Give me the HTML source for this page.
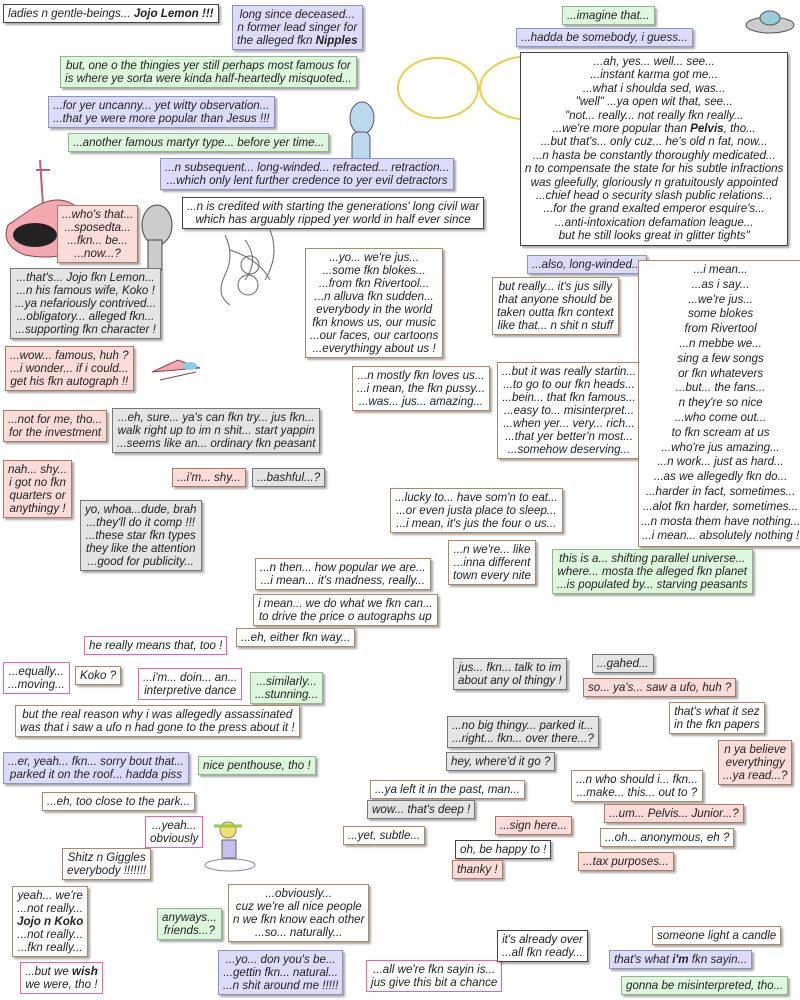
<!DOCTYPE html>
<html><head><meta charset="utf-8"><style>
body{margin:0;width:800px;height:1000px;background:#fff;position:relative;overflow:hidden}
.b{position:absolute;font:italic 11.6px/13px "Liberation Sans",sans-serif;color:#222;padding:2px 4px;text-align:center;white-space:nowrap;border:1px solid;box-shadow:2px 2px 2px rgba(0,0,0,.35)}
.k{background:#fff;border-color:#444}
.u{background:#dcdcfa;border-color:#8a94c8}
.g{background:#ddf8dd;border-color:#8cb88c}
.p{background:#fbdcd8;border-color:#b07860}
.y{background:#e4e4e4;border-color:#777}
.w{background:#fff;border-color:#b08860}
.m{background:#fff;border-color:#f060b0;box-shadow:none}
svg{position:absolute;left:0;top:0}
</style></head><body>
<svg width="800" height="1000">
<ellipse cx="438" cy="88" rx="40" ry="30" fill="#fff" stroke="#e8d040" stroke-width="2"/>
<ellipse cx="532" cy="88" rx="52" ry="32" fill="#fff" stroke="#e8d040" stroke-width="2"/>
<ellipse cx="770" cy="25" rx="24" ry="8" fill="#ccc" stroke="#555"/>
<ellipse cx="770" cy="18" rx="10" ry="7" fill="#9cd" stroke="#555"/>
<ellipse cx="362" cy="118" rx="12" ry="16" fill="#bcd8ec" stroke="#557"/>
<rect x="352" y="132" width="18" height="36" rx="6" fill="#bcd8ec" stroke="#557"/>
<path d="M40 160 L44 220 M36 170 H50" stroke="#c06070" stroke-width="2"/>
<path d="M30 210 Q60 190 80 210 L90 245 Q60 262 25 255 Q0 245 8 225 Z" fill="#f4a8b0" stroke="#844"/>
<ellipse cx="35" cy="235" rx="22" ry="12" fill="#222"/>
<ellipse cx="157" cy="225" rx="15" ry="20" fill="#ccc" stroke="#444"/>
<rect x="148" y="240" width="14" height="30" fill="#ccc" stroke="#444"/>
<g fill="none" stroke="#666"><path d="M225 235 q10 20 0 40 q-10 20 5 30 M245 240 q15 20 0 40 M270 230 q10 25 -5 50 M230 250 q30 10 40 30"/><circle cx="250" cy="265" r="9"/><circle cx="248" cy="285" r="10"/></g>
<path d="M152 372 L200 368 L178 360 Z M160 380 L196 372" fill="#f4a8b0" stroke="#844"/>
<ellipse cx="190" cy="366" rx="7" ry="4" fill="#8ce"/>
<circle cx="228" cy="830" r="8" fill="#f0e070" stroke="#886"/>
<path d="M214 826 h28" stroke="#9c4" stroke-width="3"/>
<ellipse cx="230" cy="865" rx="25" ry="6" fill="none" stroke="#88a"/>
<rect x="222" y="840" width="14" height="18" fill="#c8c0f0" stroke="#665"/>
</svg>
<div class="b k" style="left:3px;top:4px">ladies n gentle-beings... <b>Jojo Lemon !!!</b></div>
<div class="b u" style="left:232px;top:5px">long since deceased...<br>n former lead singer for<br>the alleged fkn <b>Nipples</b></div>
<div class="b g" style="left:60px;top:56px">but, one o the thingies yer still perhaps most famous for<br>is where ye sorta were kinda half-heartedly misquoted...</div>
<div class="b u" style="left:48px;top:96px">...for yer uncanny... yet witty observation...<br>...that ye were more popular than Jesus !!!</div>
<div class="b g" style="left:68px;top:133px">...another famous martyr type... before yer time...</div>
<div class="b u" style="left:160px;top:158px">...n subsequent... long-winded... refracted... retraction...<br>...which only lent further credence to yer evil detractors</div>
<div class="b k" style="left:182px;top:197px">...n is credited with starting the generations' long civil war<br>which has arguably ripped yer world in half ever since</div>
<div class="b p" style="left:57px;top:205px">...who's that...<br>...sposedta...<br>...fkn... be...<br>...now...?</div>
<div class="b y" style="left:10px;top:268px">...that's... Jojo fkn Lemon...<br>...n his famous wife, Koko !<br>...ya nefariously contrived...<br>...obligatory... alleged fkn...<br>...supporting fkn character !</div>
<div class="b p" style="left:5px;top:346px">...wow... famous, huh ?<br>...i wonder... if i could...<br>get his fkn autograph !!</div>
<div class="b p" style="left:3px;top:410px">...not for me, tho...<br>for the investment</div>
<div class="b y" style="left:112px;top:408px">...eh, sure... ya's can fkn try... jus fkn...<br>walk right up to im n shit... start yappin<br>...seems like an... ordinary fkn peasant</div>
<div class="b p" style="left:3px;top:460px">nah... shy...<br>i got no fkn<br>quarters or<br>anythingy !</div>
<div class="b p" style="left:172px;top:468px">...i'm... shy...</div>
<div class="b y" style="left:252px;top:468px">...bashful...?</div>
<div class="b y" style="left:80px;top:500px">yo, whoa...dude, brah<br>...they'll do it comp !!!<br>...these star fkn types<br>they like the attention<br>...good for publicity...</div>
<div class="b g" style="left:562px;top:6px">...imagine that...</div>
<div class="b u" style="left:516px;top:28px">...hadda be somebody, i guess...</div>
<div class="b k" style="left:520px;top:52px;line-height:13.4px">...ah, yes... well... see...<br>...instant karma got me...<br>...what i shoulda sed, was...<br>"well" ...ya open wit that, see...<br>"not... really... not really fkn really...<br>...we're more popular than <b>Pelvis</b>, tho...<br>...but that's... only cuz... he's old n fat, now...<br>...n hasta be constantly thoroughly medicated...<br>n to compensate the state for his subtle infractions<br>was gleefully, gloriously n gratuitously appointed<br>...chief head o security slash public relations...<br>...for the grand exalted emperor esquire's...<br>...anti-intoxication defamation league...<br>but he still looks great in glitter tights"</div>
<div class="b u" style="left:527px;top:255px">...also, long-winded...</div>
<div class="b w" style="left:492px;top:277px">but really... it's jus silly<br>that anyone should be<br>taken outta fkn context<br>like that... n shit n stuff</div>
<div class="b w" style="left:305px;top:248px">...yo... we're jus...<br>...some fkn blokes...<br>...from fkn Rivertool...<br>...n alluva fkn sudden...<br>everybody in the world<br>fkn knows us, our music<br>...our faces, our cartoons<br>...everythingy about us !</div>
<div class="b w" style="left:352px;top:366px">...n mostly fkn loves us...<br>...i mean, the fkn pussy...<br>...was... jus... amazing...</div>
<div class="b w" style="left:497px;top:362px">...but it was really startin...<br>...to go to our fkn heads...<br>...bein... that fkn famous...<br>...easy to... misinterpret...<br>...when yer... very... rich...<br>...that yer better'n most...<br>...somehow deserving...</div>
<div class="b w" style="left:638px;top:260px;line-height:14.8px;padding:2px 2px">...i mean...<br>...as i say...<br>...we're jus...<br>some blokes<br>from Rivertool<br>...n mebbe we...<br>sing a few songs<br>or fkn whatevers<br>...but... the fans...<br>n they're so nice<br>...who come out...<br>to fkn scream at us<br>...who're jus amazing...<br>...n work... just as hard...<br>...as we allegedly fkn do...<br>...harder in fact, sometimes...<br>...alot fkn harder, sometimes...<br>...n mosta them have nothing...<br>...i mean... absolutely nothing !</div>
<div class="b w" style="left:390px;top:488px">...lucky to... have som'n to eat...<br>...or even justa place to sleep...<br>...i mean, it's jus the four o us...</div>
<div class="b w" style="left:448px;top:540px">...n we're... like<br>...inna different<br>town every nite</div>
<div class="b g" style="left:552px;top:549px">this is a... shifting parallel universe...<br>where... mosta the alleged fkn planet<br>...is populated by... starving peasants</div>
<div class="b w" style="left:255px;top:558px">...n then... how popular we are...<br>...i mean... it's madness, really...</div>
<div class="b w" style="left:253px;top:594px">i mean... we do what we fkn can...<br>to drive the price o autographs up</div>
<div class="b w" style="left:236px;top:628px">...eh, either fkn way...</div>
<div class="b m" style="left:84px;top:636px">he really means that, too !</div>
<div class="b m" style="left:3px;top:662px">...equally...<br>...moving...</div>
<div class="b w" style="left:75px;top:666px">Koko ?</div>
<div class="b m" style="left:138px;top:668px">...i'm... doin... an...<br>interpretive dance</div>
<div class="b g" style="left:250px;top:672px">...similarly...<br>...stunning...</div>
<div class="b w" style="left:15px;top:705px">but the real reason why i was allegedly assassinated<br>was that i saw a ufo n had gone to the press about it !</div>
<div class="b u" style="left:3px;top:752px">...er, yeah... fkn... sorry bout that...<br>parked it on the roof... hadda piss</div>
<div class="b g" style="left:198px;top:756px">nice penthouse, tho !</div>
<div class="b w" style="left:42px;top:792px">...eh, too close to the park...</div>
<div class="b m" style="left:145px;top:816px">...yeah...<br>obviously</div>
<div class="b w" style="left:62px;top:848px">Shitz n Giggles<br>everybody !!!!!!!</div>
<div class="b w" style="left:12px;top:886px">yeah... we're<br>...not really...<br><b>Jojo n Koko</b><br>...not really...<br>...fkn really...</div>
<div class="b m" style="left:20px;top:962px">...but we <b>wish</b><br>we were, tho !</div>
<div class="b w" style="left:228px;top:884px">...obviously...<br>cuz we're all nice people<br>n we fkn know each other<br>...so... naturally...</div>
<div class="b g" style="left:157px;top:908px">anyways...<br>friends...?</div>
<div class="b u" style="left:218px;top:950px">...yo... don you's be...<br>...gettin fkn... natural...<br>...n shit around me !!!!!</div>
<div class="b m" style="left:366px;top:960px">...all we're fkn sayin is...<br>jus give this bit a chance</div>
<div class="b k" style="left:497px;top:930px">it's already over<br>...all fkn ready...</div>
<div class="b y" style="left:453px;top:658px">jus... fkn... talk to im<br>about any ol thingy !</div>
<div class="b y" style="left:592px;top:654px">...gahed...</div>
<div class="b p" style="left:583px;top:678px">so... ya's... saw a ufo, huh ?</div>
<div class="b w" style="left:669px;top:702px">that's what it sez<br>in the fkn papers</div>
<div class="b p" style="left:718px;top:740px">n ya believe<br>everythingy<br>...ya read...?</div>
<div class="b y" style="left:447px;top:716px">...no big thingy... parked it...<br>...right... fkn... over there...?</div>
<div class="b y" style="left:446px;top:752px">hey, where'd it go ?</div>
<div class="b w" style="left:370px;top:780px">...ya left it in the past, man...</div>
<div class="b y" style="left:367px;top:800px">wow... that's deep !</div>
<div class="b w" style="left:343px;top:826px">...yet, subtle...</div>
<div class="b p" style="left:495px;top:816px">...sign here...</div>
<div class="b k" style="left:455px;top:840px">oh, be happy to !</div>
<div class="b p" style="left:452px;top:860px">thanky !</div>
<div class="b w" style="left:571px;top:770px">...n who should i... fkn...<br>...make... this... out to ?</div>
<div class="b p" style="left:604px;top:804px">...um... Pelvis... Junior...?</div>
<div class="b w" style="left:600px;top:828px">...oh... anonymous, eh ?</div>
<div class="b p" style="left:578px;top:852px">...tax purposes...</div>
<div class="b w" style="left:652px;top:926px">someone light a candle</div>
<div class="b u" style="left:609px;top:950px">that's what <b>i'm</b> fkn sayin...</div>
<div class="b g" style="left:621px;top:976px">gonna be misinterpreted, tho...</div>
</body></html>
